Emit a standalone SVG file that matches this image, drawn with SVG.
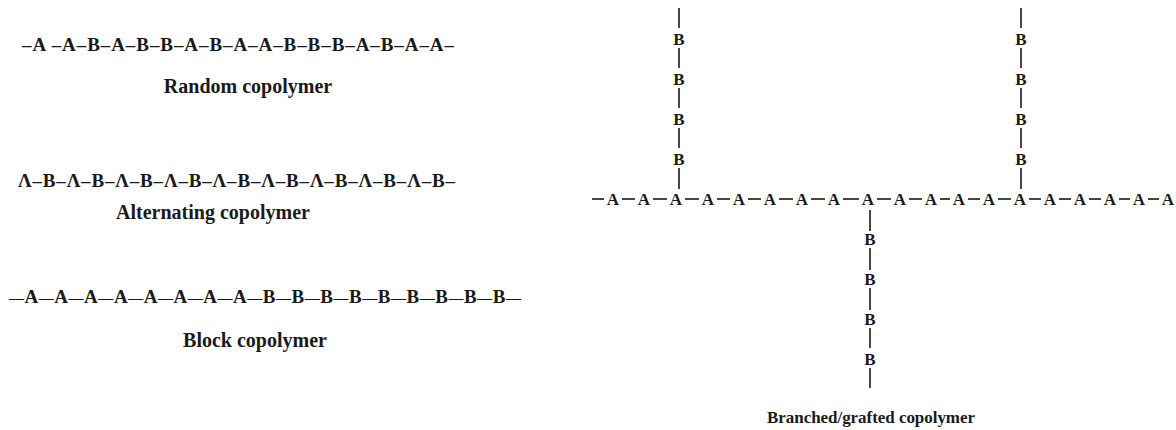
<svg xmlns="http://www.w3.org/2000/svg" width="1176" height="430" viewBox="0 0 1176 430">
<style>
  .chain { font-family: "Liberation Serif", "Times New Roman", serif; font-weight: bold; font-size: 19px; fill: #1a1a1a; }
  .d { font-size: 15px; }
  .label { font-family: "Liberation Serif", "Times New Roman", serif; font-weight: bold; font-size: 20px; fill: #1a1a1a; text-anchor: middle; }
  .mono { font-family: "Liberation Serif", "Times New Roman", serif; font-weight: bold; font-size: 17px; fill: #1a1a1a; text-anchor: middle; }
  .bond { stroke: #1a1a1a; stroke-width: 1.6; fill: none; }
</style>
<rect width="1176" height="430" fill="#ffffff"/>

<g id="random">
  <text class="chain" x="22" y="51" textLength="432" lengthAdjust="spacing">–A –A–B–A–B–B–A–B–A–A–B–B–B–A–B–A–A–</text>
  <text class="label" x="248" y="93">Random copolymer</text>
</g>

<g id="alternating">
  <text class="chain" x="18" y="187" textLength="437" lengthAdjust="spacing">Λ–B–Λ–B–Λ–B–Λ–B–Λ–B–Λ–B–Λ–B–Λ–B–Λ–B–</text>
  <text class="label" x="213" y="219">Alternating copolymer</text>
</g>

<g id="block">
  <text class="chain" x="9" y="303" textLength="512" lengthAdjust="spacing"><tspan class="d">—</tspan>A<tspan class="d">—</tspan>A<tspan class="d">—</tspan>A<tspan class="d">—</tspan>A<tspan class="d">—</tspan>A<tspan class="d">—</tspan>A<tspan class="d">—</tspan>A<tspan class="d">—</tspan>A<tspan class="d">—</tspan>B<tspan class="d">—</tspan>B<tspan class="d">—</tspan>B<tspan class="d">—</tspan>B<tspan class="d">—</tspan>B<tspan class="d">—</tspan>B<tspan class="d">—</tspan>B<tspan class="d">—</tspan>B<tspan class="d">—</tspan>B<tspan class="d">—</tspan></text>
  <text class="label" x="255" y="347">Block copolymer</text>
</g>

<g id="connectors">
  <line class="bond" x1="592" y1="199" x2="604" y2="199"/>
  <line class="bond" x1="622" y1="199" x2="635" y2="199"/>
  <line class="bond" x1="653" y1="199" x2="667" y2="199"/>
  <line class="bond" x1="685" y1="199" x2="699" y2="199"/>
  <line class="bond" x1="717" y1="199" x2="730" y2="199"/>
  <line class="bond" x1="748" y1="199" x2="761" y2="199"/>
  <line class="bond" x1="779" y1="199" x2="793" y2="199"/>
  <line class="bond" x1="811" y1="199" x2="825" y2="199"/>
  <line class="bond" x1="843" y1="199" x2="859" y2="199"/>
  <line class="bond" x1="877" y1="199" x2="891" y2="199"/>
  <line class="bond" x1="909" y1="199" x2="922" y2="199"/>
  <line class="bond" x1="940" y1="199" x2="950" y2="199"/>
  <line class="bond" x1="968" y1="199" x2="980" y2="199"/>
  <line class="bond" x1="998" y1="199" x2="1011" y2="199"/>
  <line class="bond" x1="1029" y1="199" x2="1041" y2="199"/>
  <line class="bond" x1="1059" y1="199" x2="1071" y2="199"/>
  <line class="bond" x1="1089" y1="199" x2="1101" y2="199"/>
  <line class="bond" x1="1119" y1="199" x2="1130" y2="199"/>
  <line class="bond" x1="1148" y1="199" x2="1159" y2="199"/>
  <line class="bond" x1="679" y1="8" x2="679" y2="28"/>
  <line class="bond" x1="679" y1="48" x2="679" y2="68"/>
  <line class="bond" x1="679" y1="88" x2="679" y2="108"/>
  <line class="bond" x1="679" y1="128" x2="679" y2="148"/>
  <line class="bond" x1="679" y1="168" x2="679" y2="189"/>
  <line class="bond" x1="1021" y1="8" x2="1021" y2="28"/>
  <line class="bond" x1="1021" y1="48" x2="1021" y2="68"/>
  <line class="bond" x1="1021" y1="88" x2="1021" y2="108"/>
  <line class="bond" x1="1021" y1="128" x2="1021" y2="148"/>
  <line class="bond" x1="1021" y1="168" x2="1021" y2="189"/>
  <line class="bond" x1="870" y1="210" x2="870" y2="231"/>
  <line class="bond" x1="870" y1="248" x2="870" y2="270"/>
  <line class="bond" x1="870" y1="288" x2="870" y2="310"/>
  <line class="bond" x1="870" y1="328" x2="870" y2="348"/>
  <line class="bond" x1="870" y1="368" x2="870" y2="388"/>
</g>

<g id="branched">
  <g id="backbone">
    <text class="mono" x="613" y="205">A</text>
    <text class="mono" x="644" y="205">A</text>
    <text class="mono" x="676" y="205">A</text>
    <text class="mono" x="708" y="205">A</text>
    <text class="mono" x="739" y="205">A</text>
    <text class="mono" x="770" y="205">A</text>
    <text class="mono" x="802" y="205">A</text>
    <text class="mono" x="834" y="205">A</text>
    <text class="mono" x="868" y="205">A</text>
    <text class="mono" x="900" y="205">A</text>
    <text class="mono" x="931" y="205">A</text>
    <text class="mono" x="959" y="205">A</text>
    <text class="mono" x="989" y="205">A</text>
    <text class="mono" x="1020" y="205">A</text>
    <text class="mono" x="1050" y="205">A</text>
    <text class="mono" x="1080" y="205">A</text>
    <text class="mono" x="1110" y="205">A</text>
    <text class="mono" x="1139" y="205">A</text>
    <text class="mono" x="1168" y="205">A</text>
  </g>
  <g id="graft1">
    <text class="mono" x="679" y="45">B</text>
    <text class="mono" x="679" y="85">B</text>
    <text class="mono" x="679" y="125">B</text>
    <text class="mono" x="679" y="165">B</text>
  </g>
  <g id="graft2">
    <text class="mono" x="1021" y="45">B</text>
    <text class="mono" x="1021" y="85">B</text>
    <text class="mono" x="1021" y="125">B</text>
    <text class="mono" x="1021" y="165">B</text>
  </g>
  <g id="graft3">
    <text class="mono" x="870" y="245">B</text>
    <text class="mono" x="870" y="285">B</text>
    <text class="mono" x="870" y="325">B</text>
    <text class="mono" x="870" y="365">B</text>
  </g>
  <text class="label" x="871" y="423" style="font-size:17px" textLength="208" lengthAdjust="spacing">Branched/grafted copolymer</text>
</g>
</svg>
